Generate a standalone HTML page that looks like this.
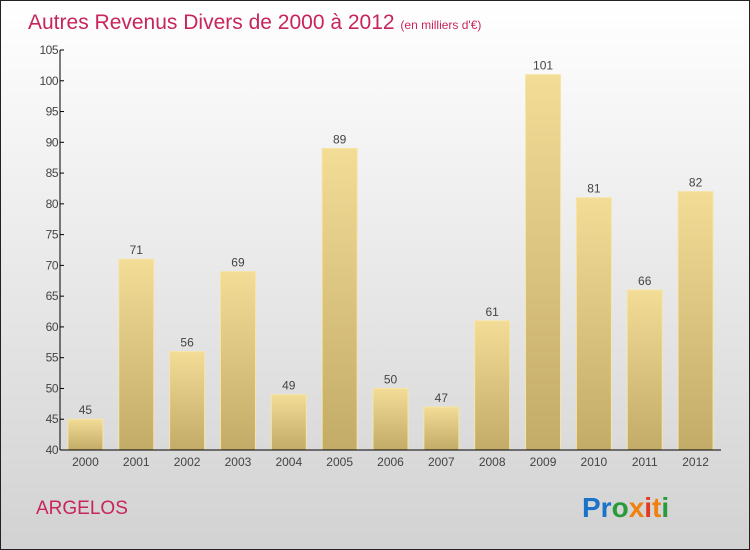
<!DOCTYPE html>
<html><head><meta charset="utf-8"><style>
body{margin:0}
svg{display:block;font-family:"Liberation Sans",sans-serif}
</style></head><body>
<svg id="c" width="750" height="550">
<defs>
<linearGradient id="bg" x1="0" y1="0" x2="0" y2="1"><stop offset="0" stop-color="#ffffff"/><stop offset="1" stop-color="#d2d2d2"/></linearGradient>
<linearGradient id="bar" x1="0" y1="0" x2="0" y2="1"><stop offset="0" stop-color="#f2dc96"/><stop offset="1" stop-color="#c3ab68"/></linearGradient>
</defs>
<rect x="0.5" y="0.5" width="749" height="549" fill="url(#bg)" stroke="#222"/>
<text x="28" y="29" font-size="21" fill="#c8255a">Autres Revenus Divers de 2000 à 2012 <tspan font-size="12">(en milliers d'€)</tspan></text>
<text x="36" y="514" font-size="19" fill="#c8255a">ARGELOS</text>
<g font-size="28" font-weight="bold">
<text x="582" y="517"><tspan fill="#1a73c9">Pr</tspan><tspan fill="#2a9a3a">o</tspan><tspan fill="#f08010">x</tspan><tspan fill="#e03a20">i</tspan><tspan fill="#f08010">t</tspan><tspan fill="#2a9a3a">i</tspan></text>
</g>
<g id="plot"></g>
</svg>
<script>
const years=["2000","2001","2002","2003","2004","2005","2006","2007","2008","2009","2010","2011","2012"];
const values=[45,71,56,69,49,89,50,47,61,101,81,66,82];
const yTicks=[40,45,50,55,60,65,70,75,80,85,90,95,100,105];
const ns="http://www.w3.org/2000/svg";
const g=document.getElementById("plot");
const x0=60,x1=721,yMin=40,yMax=105,yTop=50,yBot=450;
const step=(x1-x0)/years.length;
const Y=v=>yBot-(v-yMin)/(yMax-yMin)*(yBot-yTop);
const X=i=>x0+step*(i+0.5);
function mk(t,a){const e=document.createElementNS(ns,t);for(const k in a)e.setAttribute(k,a[k]);g.appendChild(e);return e;}
values.forEach((v,i)=>{
 const r=mk("rect",{x:X(i)-17.5,y:Y(v),width:35,height:yBot-Y(v),fill:"url(#bar)",stroke:"#f5e6a8","stroke-width":1});
 
 
 const t=mk("text",{x:X(i),y:Y(v)-5,"text-anchor":"middle","font-size":12,fill:"#444"});t.textContent=v;
 
 
 const l=mk("text",{x:X(i),y:466,"text-anchor":"middle","font-size":12,fill:"#444"});l.textContent=years[i];
 
 
});
yTicks.forEach(v=>{
 const tk=mk("line",{x1:x0,x2:x0+4,y1:Y(v),y2:Y(v),stroke:"#000"});
 
 
 const t=mk("text",{x:x0-2,y:Y(v)+4,"text-anchor":"end","font-size":12,fill:"#444","letter-spacing":"-0.5"});t.textContent=v;
 
 
});
const ya=mk("line",{x1:x0,x2:x0,y1:yTop,y2:yBot,stroke:"#000"});


const xa=mk("line",{x1:x0,x2:x1,y1:yBot,y2:yBot,stroke:"#000"});


</script>
</body></html>
